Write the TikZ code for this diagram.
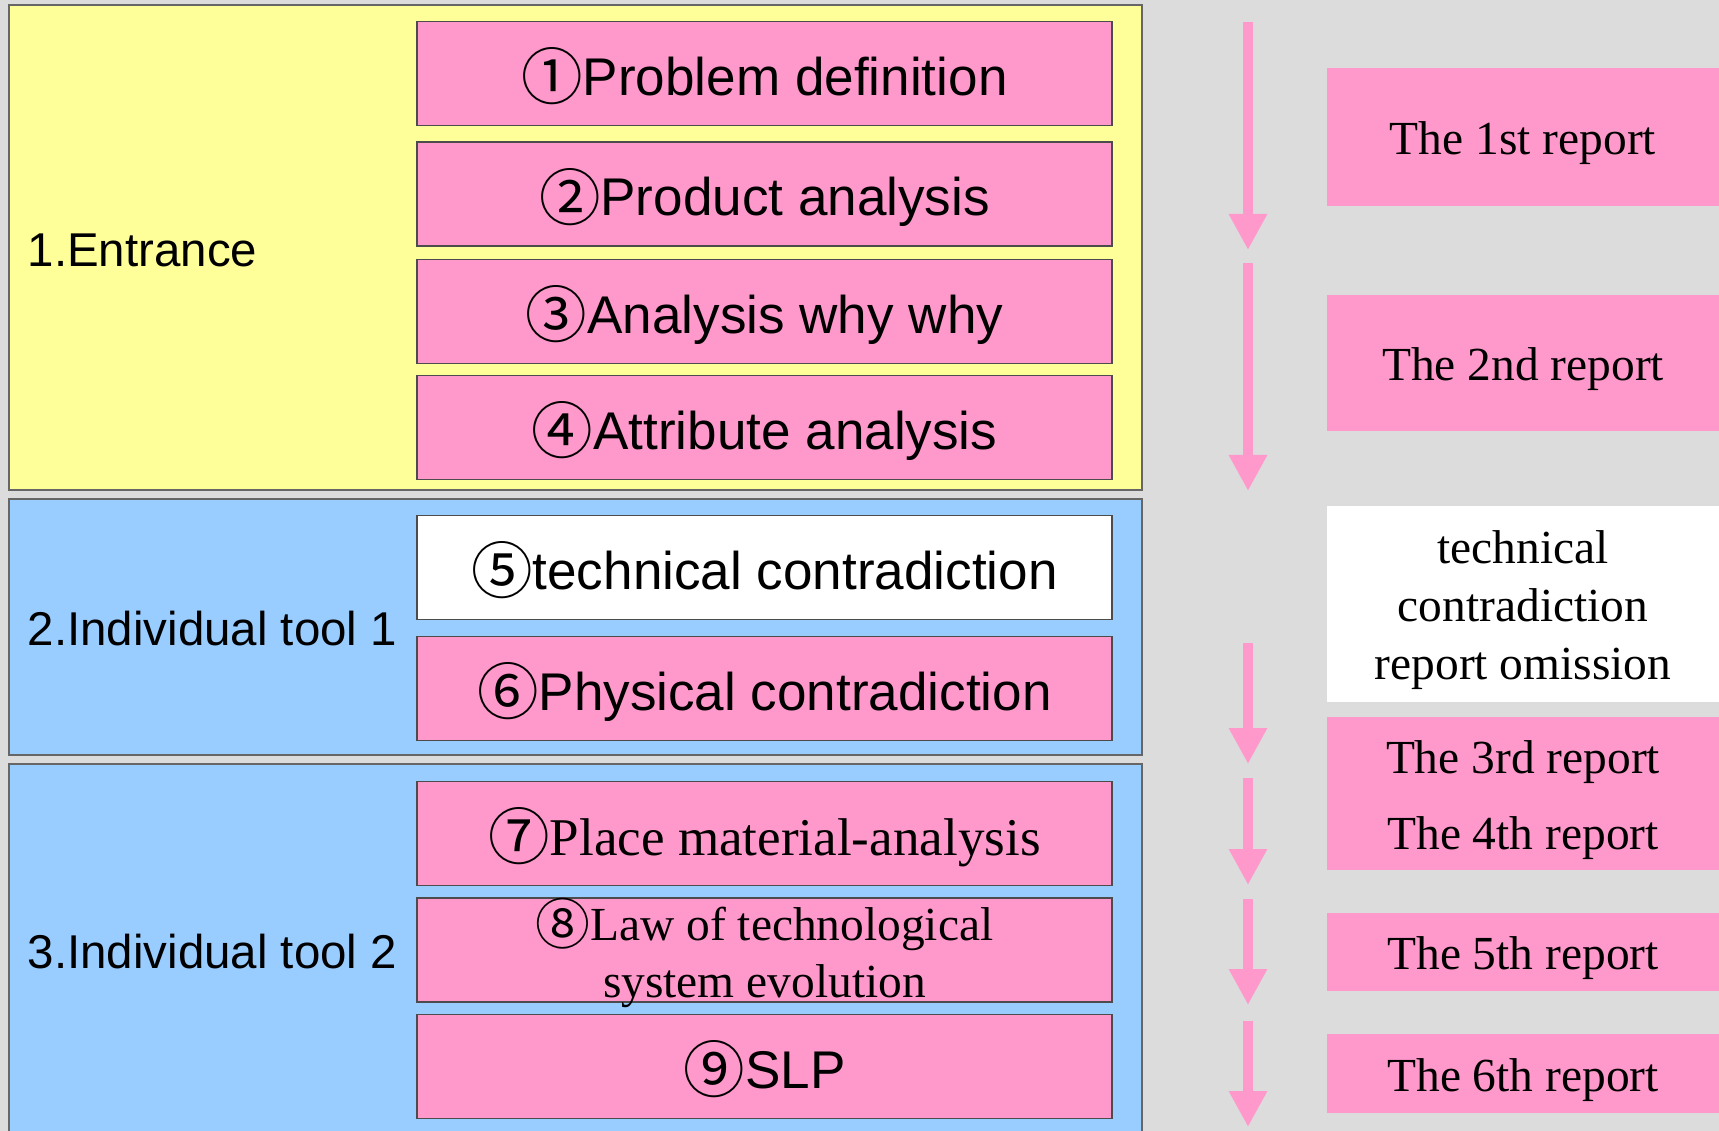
\documentclass[tikz,border=0pt]{standalone}
\usepackage{fontspec}
\setmainfont{Liberation Serif}
\setsansfont{Liberation Sans}
\newfontfamily\circfont{Noto Sans CJK SC}
\usepackage{tikz}
\usetikzlibrary{arrows.meta}

\definecolor{bgpaper}{RGB}{220,220,220}
\definecolor{panelyellow}{RGB}{255,255,153}
\definecolor{panelblue}{RGB}{153,204,255}
\definecolor{steppink}{RGB}{255,153,204}

\newcommand{\cnum}[2][17.5]{\raisebox{-1.2pt}{\circfont\fontsize{#1}{#1}\selectfont #2}}
\newcommand{\stepfont}{\fontsize{15.1}{16.2}\selectfont}
\newcommand{\groupfont}{\sffamily\fontsize{13.5}{16}\selectfont}
\newcommand{\reportfont}{\rmfamily\fontsize{13.5}{16.5}\selectfont}

\begin{document}
\begin{tikzpicture}[x=0.1mm, y=-0.1mm,
    panel/.style={draw=black!60, line width=0.5pt},
    stepbox/.style={draw=black!70, line width=0.5pt, fill=steppink, minimum width=69.5mm, minimum height=10.4mm, inner sep=0pt, align=center, font=\stepfont, text height=12.4pt, text depth=0pt},
    grouplabel/.style={anchor=west, inner sep=0pt, font=\groupfont},
    report/.style={fill=steppink, minimum width=39.2mm, inner sep=0pt, align=center, font=\reportfont, text height=10.2pt, text depth=0pt},
    flow/.style={-{Triangle[width=3.6mm, length=3.6mm]}, line width=1mm, draw=steppink}]
		% paper
		\useasboundingbox (0,0) rectangle (1719,1131);
		\fill[bgpaper] (0,0) rectangle (1719,1131);
		% the three stages
		\draw[panel, fill=panelyellow] (9,5) rectangle (1142,490);
		\draw[panel, fill=panelblue] (9,499) rectangle (1142,755);
		\draw[panel, fill=panelblue] (9,764) rectangle (1142,1140);
		\node[grouplabel] (entrance) at (27,250) {1.Entrance};
		\node[grouplabel] (tool1) at (27,629) {2.Individual tool 1};
		\node[grouplabel] (tool2) at (27,952) {3.Individual tool 2};
		% the steps
		\node[stepbox] (s1) at (764.5,73.5) {\cnum{①}\sffamily Problem definition};
		\node[stepbox] (s2) at (764.5,194) {\cnum{②}\sffamily Product analysis};
		\node[stepbox] (s3) at (764.5,311.5) {\cnum{③}\sffamily Analysis why why};
		\node[stepbox] (s4) at (764.5,427.5) {\cnum{④}\sffamily Attribute analysis};
		\node[stepbox, fill=white] (s5) at (764.5,567.5) {\cnum{⑤}\sffamily technical contradiction};
		\node[stepbox] (s6) at (764.5,688.5) {\cnum{⑥}\sffamily Physical contradiction};
		\node[stepbox] (s7) at (764.5,833.5) {\cnum{⑦}\rmfamily Place material-analysis};
		\node[stepbox, font=\fontsize{13.5}{16.2}\selectfont, text height=27pt] (s8) at (764.5,950) {\cnum[15.6]{⑧}\rmfamily Law of technological\\\rmfamily system evolution};
		\node[stepbox] (s9) at (764.5,1066.5) {\cnum{⑨}\sffamily SLP};
		% the reports
		\node[report, minimum height=13.8mm] (r1) at (1523,137) {The 1st report};
		\node[report, minimum height=13.6mm] (r2) at (1523,363) {The 2nd report};
		\node[report, fill=white, minimum height=19.6mm, text height=43.2pt] (omit) at (1523,604) {technical\\contradiction\\report omission};
		\node[report, minimum height=15.3mm, font=\rmfamily\fontsize{13.5}{21.6}\selectfont, text height=31.8pt] (r34) at (1523,793.5) {The 3rd report\\The 4th report};
		\node[report, minimum height=7.8mm] (r5) at (1523,952) {The 5th report};
		\node[report, minimum height=7.9mm] (r6) at (1523,1073.5) {The 6th report};
		% the flow arrows
		\coordinate (a1s) at (1248,22);   \coordinate (a1e) at (1248,250);
		\coordinate (a2s) at (1248,263);  \coordinate (a2e) at (1248,491);
		\coordinate (a3s) at (1248,643);  \coordinate (a3e) at (1248,764);
		\coordinate (a4s) at (1248,778);  \coordinate (a4e) at (1248,885);
		\coordinate (a5s) at (1248,899);  \coordinate (a5e) at (1248,1005);
		\coordinate (a6s) at (1248,1021); \coordinate (a6e) at (1248,1127);
		\draw[flow] (a1s) -- (a1e);
		\draw[flow] (a2s) -- (a2e);
		\draw[flow] (a3s) -- (a3e);
		\draw[flow] (a4s) -- (a4e);
		\draw[flow] (a5s) -- (a5e);
		\draw[flow] (a6s) -- (a6e);
	\end{tikzpicture}
\end{document}
